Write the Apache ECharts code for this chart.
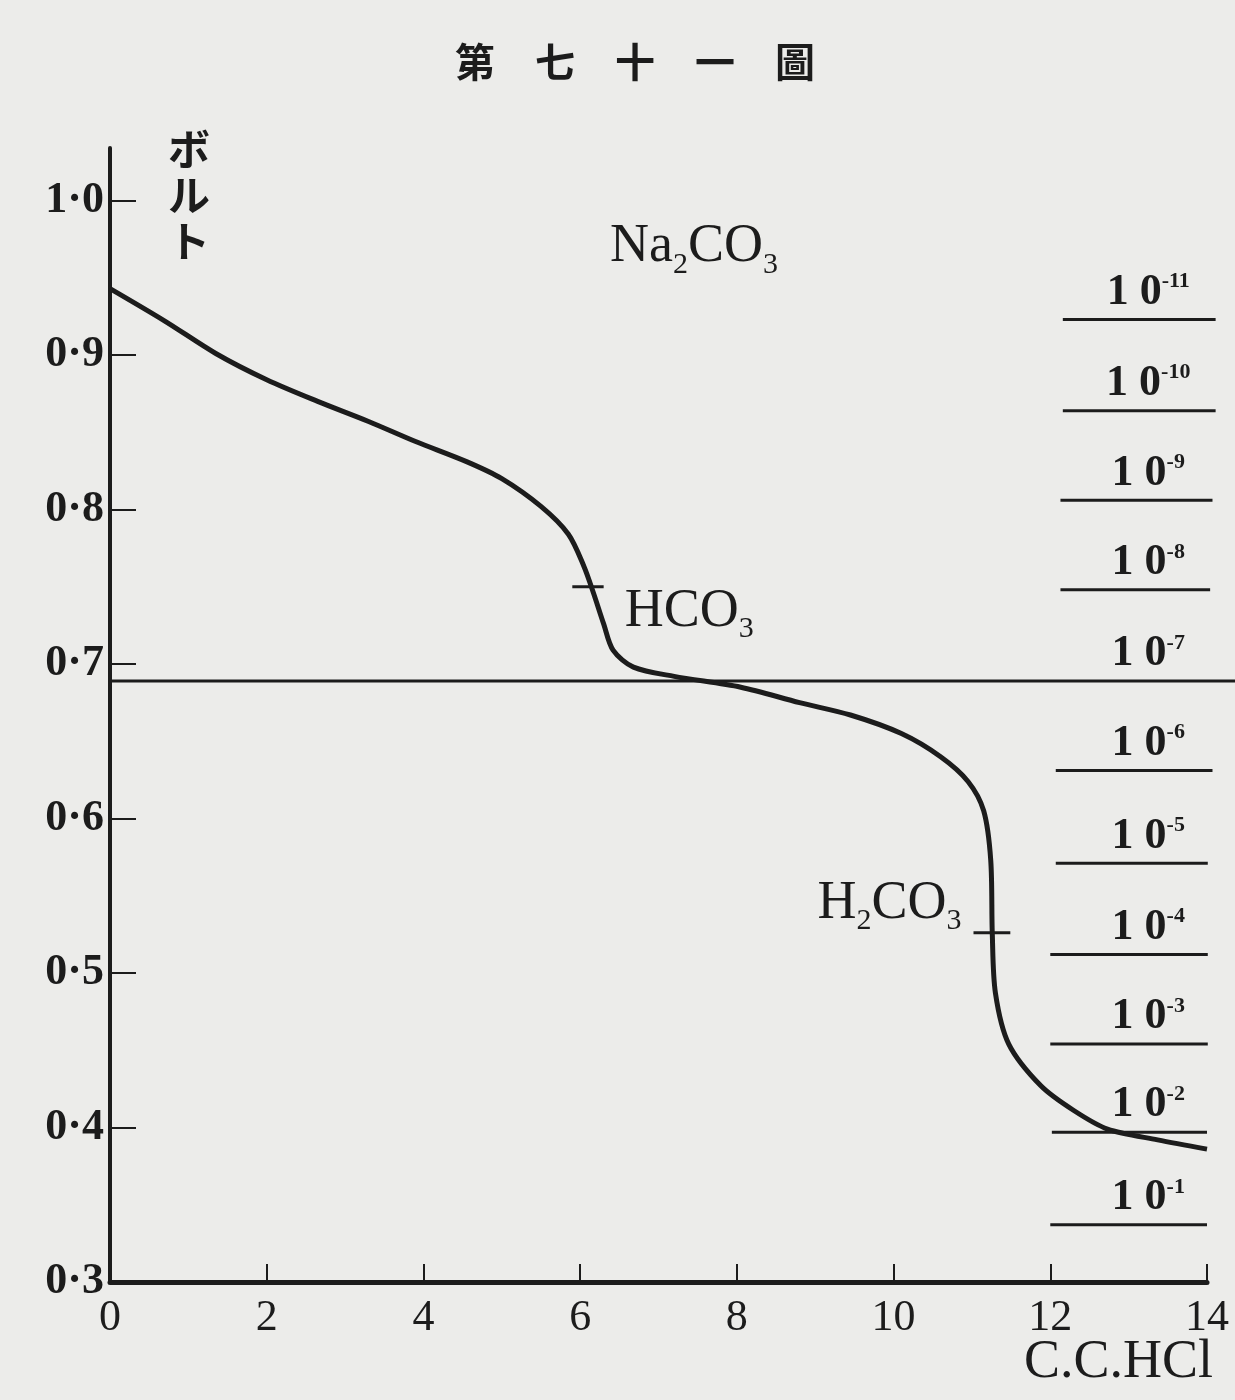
<!DOCTYPE html>
<html>
<head>
<meta charset="utf-8">
<title>第七十一圖</title>
<script src="https://cdn.jsdelivr.net/npm/echarts@6/dist/echarts.min.js"></script>
<style>
  html, body { margin: 0; padding: 0; background: #ececea; }
  #chart { width: 1235px; height: 1400px; }
</style>
</head>
<body>
<div id="chart"></div>
<script>
// 滴定曲線 Na2CO3 + HCl
var curveX = [0, 0.7, 1.35, 2.0, 2.65, 3.3, 3.9, 4.55, 5.0, 5.5, 5.85, 6.05, 6.17, 6.3, 6.42, 6.68, 7.2, 8.05, 8.8, 9.45, 10.1, 10.6, 10.95, 11.15, 11.24, 11.26, 11.3, 11.47, 11.88, 12.3, 12.73, 13.37, 14.0]
var curveV = [0.943, 0.922, 0.901, 0.884, 0.870, 0.857, 0.844, 0.831, 0.820, 0.802, 0.784, 0.763, 0.746, 0.726, 0.709, 0.698, 0.692, 0.685, 0.675, 0.667, 0.655, 0.640, 0.624, 0.605, 0.573, 0.525, 0.487, 0.454, 0.427, 0.411, 0.399, 0.392, 0.386]

// 10^-7 の水平線 (右端の外まで伸びる)
var neutralV = 0.689
var neutralX = [0, 14.37]

// 右側の水素イオン濃度目盛
var phExp = ['-11', '-10', '-9', '-8', '-7', '-6', '-5', '-4', '-3', '-2', '-1']
var phV = [0.923, 0.864, 0.806, 0.748, 0.689, 0.631, 0.571, 0.512, 0.454, 0.397, 0.337]
var phStart = [12.16, 12.16, 12.13, 12.13, null, 12.07, 12.07, 12.0, 12.0, 12.02, 12.0]
var phEnd = [14.11, 14.11, 14.07, 14.04, null, 14.07, 14.01, 14.01, 14.01, 14.0, 14.0]
var phLabelX = 13.25

// 当量点の印
var hco3Mark = [[5.9, 0.75], [6.3, 0.75]]
var h2co3Mark = [[11.02, 0.526], [11.49, 0.526]]

// 文字
var notes = [
  { name: 'Na2CO3', value: [6.38, 0.968], text: '{m|Na}{sub|2}{m|CO}{sub|3}' },
  { name: 'HCO3', value: [6.57, 0.732], text: '{m|HCO}{sub|3}' },
  { name: 'H2CO3', value: [9.03, 0.543], text: '{m|H}{sub|2}{m|CO}{sub|3}' }
]

var ink = '#1c1c1c'
var serif = '"Liberation Serif", "DejaVu Serif", serif'

var myChart = echarts.init(document.getElementById('chart'))

var option = {
  backgroundColor: '#ececea',
  animation: false,
  grid: { left: 110, right: 28, top: 148, bottom: 118 },
  graphic: [
    {
      type: 'text', left: 455, top: 42,
      style: { text: '第　七　十　一　圖', fill: ink, font: 'bold 40px "Noto Sans CJK JP"' }
    },
    {
      type: 'text', left: 168, top: 126,
      style: { text: 'ボ\nル\nト', fill: ink, font: 'bold 42px "Noto Sans CJK JP"', lineHeight: 46 }
    },
    {
      type: 'text', right: 22, top: 1336,
      style: { text: 'C.C.HCl', fill: ink, font: '54px ' + serif }
    }
  ],
  xAxis: {
    type: 'value',
    min: 0,
    max: 14,
    interval: 2,
    axisLine: { lineStyle: { color: ink, width: 5 } },
    axisTick: { inside: true, length: 18, lineStyle: { color: ink, width: 2 } },
    axisLabel: { color: ink, fontSize: 44, fontFamily: serif, margin: 14 },
    splitLine: { show: false }
  },
  yAxis: {
    type: 'value',
    min: 0.3,
    max: 1.034,
    interval: 0.1,
    axisLine: { show: true, lineStyle: { color: ink, width: 4 } },
    axisTick: { show: true, inside: true, length: 26, lineStyle: { color: ink, width: 2 } },
    axisLabel: {
      color: ink, fontSize: 44, fontFamily: serif, fontWeight: 'bold', margin: 6,
      showMaxLabel: false,
      formatter: function (v) { return v.toFixed(1).replace('.', '·') }
    },
    splitLine: { show: false }
  },
  series: [
    {
      name: '10-7',
      type: 'custom',
      clip: false,
      data: [[neutralV, neutralX[0], neutralX[1]]],
      renderItem: function (params, api) {
        var p1 = api.coord([api.value(1), api.value(0)])
        var p2 = api.coord([api.value(2), api.value(0)])
        return {
          type: 'line',
          shape: { x1: p1[0], y1: p1[1], x2: p2[0], y2: p2[1] },
          style: { stroke: ink, lineWidth: 3 }
        }
      }
    },
    {
      name: 'curve',
      type: 'line',
      symbol: 'none',
      smooth: 0.3,
      data: curveX.map(function (x, i) { return [x, curveV[i]] }),
      lineStyle: { color: ink, width: 5 }
    },
    {
      name: 'HCO3 mark',
      type: 'line',
      symbol: 'none',
      data: hco3Mark,
      lineStyle: { color: ink, width: 3 }
    },
    {
      name: 'H2CO3 mark',
      type: 'line',
      symbol: 'none',
      data: h2co3Mark,
      lineStyle: { color: ink, width: 3 }
    },
    {
      name: 'pH',
      type: 'custom',
      clip: false,
      data: phV.map(function (v, i) { return [v, phStart[i], phEnd[i]] }),
      renderItem: function (params, api) {
        var i = params.dataIndex
        var v = api.value(0)
        var children = []
        var base = api.coord([phLabelX, v])
        if (phStart[i] != null) {
          var p1 = api.coord([phStart[i], v])
          var p2 = api.coord([phEnd[i], v])
          children.push({
            type: 'line',
            shape: { x1: p1[0], y1: p1[1], x2: p2[0], y2: p2[1] },
            style: { stroke: ink, lineWidth: 3 }
          })
        }
        children.push({
          type: 'text',
          x: base[0],
          y: base[1] - 5,
          style: {
            text: '{d|1 0}{s|' + phExp[i] + '}',
            align: 'center',
            verticalAlign: 'bottom',
            rich: {
              d: { fontSize: 44, fontFamily: serif, fontWeight: 'bold', fill: ink, color: ink, lineHeight: 44 },
              s: { fontSize: 22, fontFamily: serif, fontWeight: 'bold', fill: ink, color: ink, verticalAlign: 'top', lineHeight: 44 }
            }
          }
        })
        return { type: 'group', children: children }
      }
    },
    {
      name: 'notes',
      type: 'scatter',
      symbolSize: 0,
      itemStyle: { opacity: 1 },
      data: notes.map(function (n) { return { name: n.name, value: n.value, label: { formatter: n.text } } }),
      label: {
        show: true,
        position: 'right',
        distance: 0,
        color: ink,
        opacity: 1,
        rich: {
          m: { fontSize: 54, fontFamily: serif, color: ink, lineHeight: 60, verticalAlign: 'top' },
          sub: { fontSize: 30, fontFamily: serif, color: ink, lineHeight: 60, verticalAlign: 'bottom' }
        }
      }
    }
  ]
}

myChart.setOption(option)
</script>
</body>
</html>
